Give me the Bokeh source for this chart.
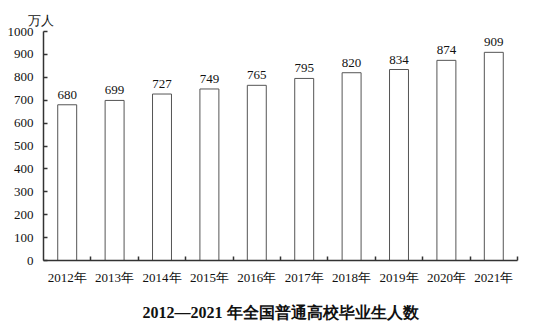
from bokeh.plotting import figure
from bokeh.models import FixedTicker, Range1d, ColumnDataSource, Title
from bokeh.core.properties import value
from bokeh.embed import file_html
from bokeh.resources import INLINE

years = ["2012年", "2013年", "2014年", "2015年", "2016年", "2017年", "2018年", "2019年", "2020年", "2021年"]
graduates = [680, 699, 727, 749, 765, 795, 820, 834, 874, 909]
y_ticks = [0, 100, 200, 300, 400, 500, 600, 700, 800, 900, 1000]
title_text = "2012—2021 年全国普通高校毕业生人数"
unit_text = "万人"

FONT = "Liberation Serif"

n = len(years)
centers = [i + 0.5 for i in range(n)]
bounds = [i + 1 for i in range(n)]

src = ColumnDataSource(dict(x=centers, top=graduates, lab=[str(v) for v in graduates]))

p = figure(width=536, height=333, output_backend="svg", toolbar_location=None,
           x_range=Range1d(0, n), y_range=Range1d(0, 1000),
           min_border_left=43, min_border_right=19, min_border_top=31, min_border_bottom=73)
p.outline_line_color = None
p.xgrid.visible = False
p.ygrid.visible = False

p.title = Title(text=unit_text, align="left", offset=-16, standoff=7,
                text_font=FONT, text_font_size="13px", text_font_style="normal",
                text_color="#111111")

p.vbar(x="x", top="top", width=0.4, bottom=0, source=src,
       fill_color="white", line_color="#555555", line_width=1)
p.text(x="x", y="top", text="lab", source=src, y_offset=-6,
       text_align="center", text_baseline="bottom",
       text_font=value(FONT), text_font_size="13px", text_color="#111111")

xa = p.xaxis[0]
xa.ticker = FixedTicker(ticks=centers, minor_ticks=bounds)
xa.major_label_overrides = {c: y for c, y in zip(centers, years)}
xa.major_tick_in = 0
xa.major_tick_out = 0
xa.minor_tick_in = 4
xa.minor_tick_out = 0
xa.minor_tick_line_color = "#333333"
xa.minor_tick_line_width = 1.5
xa.axis_line_color = "#333333"
xa.axis_line_width = 1.5
xa.major_label_text_font = FONT
xa.major_label_text_font_size = "13px"
xa.major_label_text_color = "#111111"
xa.major_label_standoff = 9
xa.axis_label = title_text
xa.axis_label_text_font = FONT
xa.axis_label_text_font_size = "16px"
xa.axis_label_text_font_style = "bold"
xa.axis_label_text_color = "#111111"
xa.axis_label_standoff = 16

ya = p.yaxis[0]
ya.ticker = FixedTicker(ticks=y_ticks, minor_ticks=[])
ya.major_tick_in = 4
ya.major_tick_out = 0
ya.major_tick_line_color = "#333333"
ya.major_tick_line_width = 1.5
ya.axis_line_color = "#333333"
ya.axis_line_width = 1.5
ya.major_label_text_font = FONT
ya.major_label_text_font_size = "13px"
ya.major_label_text_color = "#111111"
ya.major_label_standoff = 10

open("out.html", "w").write(file_html(p, INLINE))
